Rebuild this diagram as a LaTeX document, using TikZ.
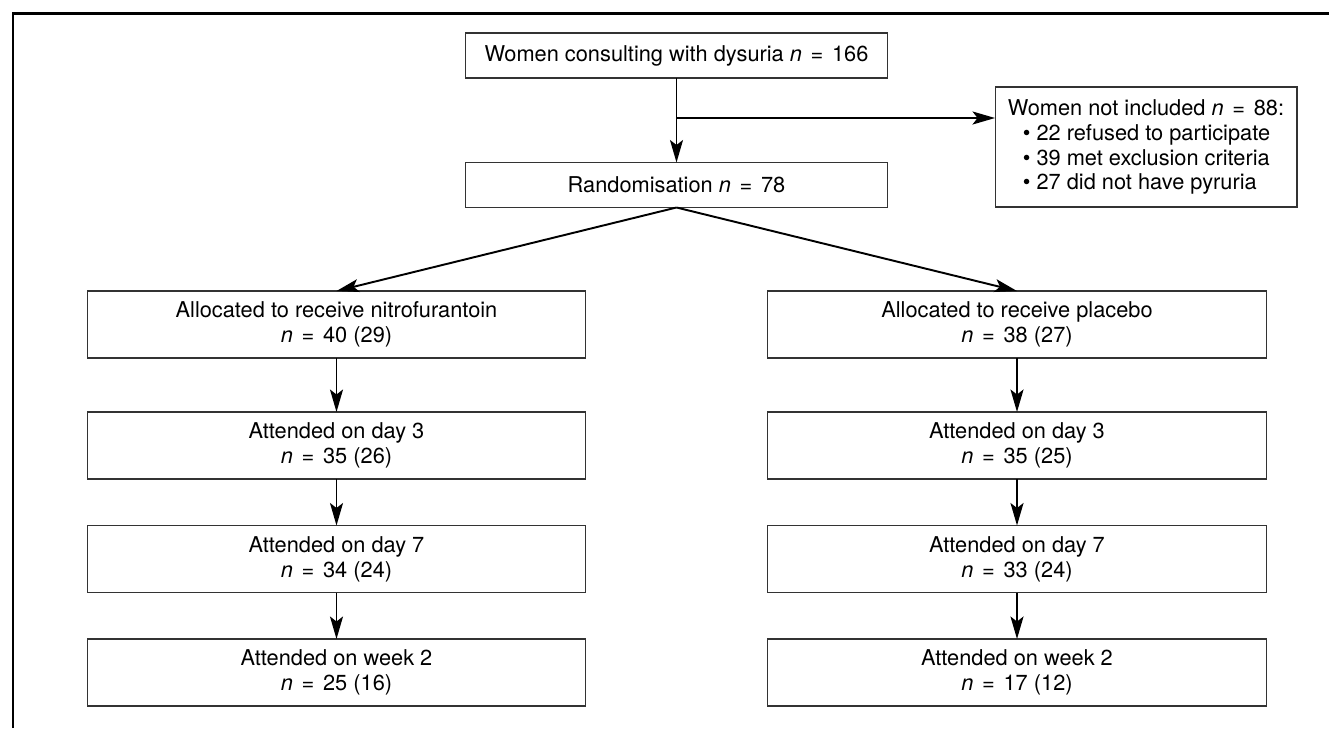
\documentclass[tikz,border=0pt]{standalone}
\usepackage{fontspec}
\setmainfont{TeX Gyre Heros}
\usetikzlibrary{arrows.meta}

\newcommand{\eq}{\hspace{0.4em}=\hspace{0.4em}}
\tikzset{
  box/.style={draw=black!80,line width=0.6pt,inner sep=0pt,outer sep=0pt,
    align=center,font=\fontsize{12.4}{14.2}\selectfont},
  topbox/.style={box,minimum width=8.46cm,minimum height=0.9cm},
  armbox/.style={box,minimum width=9.98cm,minimum height=1.34cm},
  link/.style={line width=1.1pt,-{Stealth[length=0.45cm,width=0.26cm,inset=0.1cm]}}
}

\begin{document}
\begin{tikzpicture}[x=0.02cm,y=-0.02cm]
\useasboundingbox (0,0) rectangle (1329,728);
\draw[line width=1.7pt] (13,728)--(13,13)--(1329,13);

\node[topbox] (women) at (676.5,55.5) {Women consulting with dysuria \textit{n}\eq166};
\node[topbox] (random) at (676.5,185) {Randomisation \textit{n}\eq78};
\node[box,minimum width=6.04cm,minimum height=2.4cm,align=left] (excl) at (1146,147)
  {Women not included \textit{n}\eq88:\\
   \hspace{0.3cm}\textbullet\ 22 refused to participate\\
   \hspace{0.3cm}\textbullet\ 39 met exclusion criteria\\
   \hspace{0.3cm}\textbullet\ 27 did not have pyruria};

\node[armbox] (nitro) at (336.5,324.5) {Allocated to receive nitrofurantoin\\\textit{n}\eq40 (29)};
\node[armbox] (nday3) at (336.5,445.5) {Attended on day 3\\\textit{n}\eq35 (26)};
\node[armbox] (nday7) at (336.5,559) {Attended on day 7\\\textit{n}\eq34 (24)};
\node[armbox] (nweek2) at (336.5,672.5) {Attended on week 2\\\textit{n}\eq25 (16)};

\node[armbox] (plac) at (1017,324.5) {Allocated to receive placebo\\\textit{n}\eq38 (27)};
\node[armbox] (pday3) at (1017,445.5) {Attended on day 3\\\textit{n}\eq35 (25)};
\node[armbox] (pday7) at (1017,559) {Attended on day 7\\\textit{n}\eq33 (24)};
\node[armbox] (pweek2) at (1017,672.5) {Attended on week 2\\\textit{n}\eq17 (12)};

\coordinate (split) at (676.5,118);
\draw[link] (women)--(random);
\draw[link] (split)--(excl.west|-split);
\draw[link] (random.south)--(nitro.north);
\draw[link] (random.south)--(plac.north);

\foreach \a/\b in {nitro/nday3,nday3/nday7,nday7/nweek2,plac/pday3,pday3/pday7,pday7/pweek2}
  \draw[link] (\a)--(\b);
\end{tikzpicture}
\end{document}
